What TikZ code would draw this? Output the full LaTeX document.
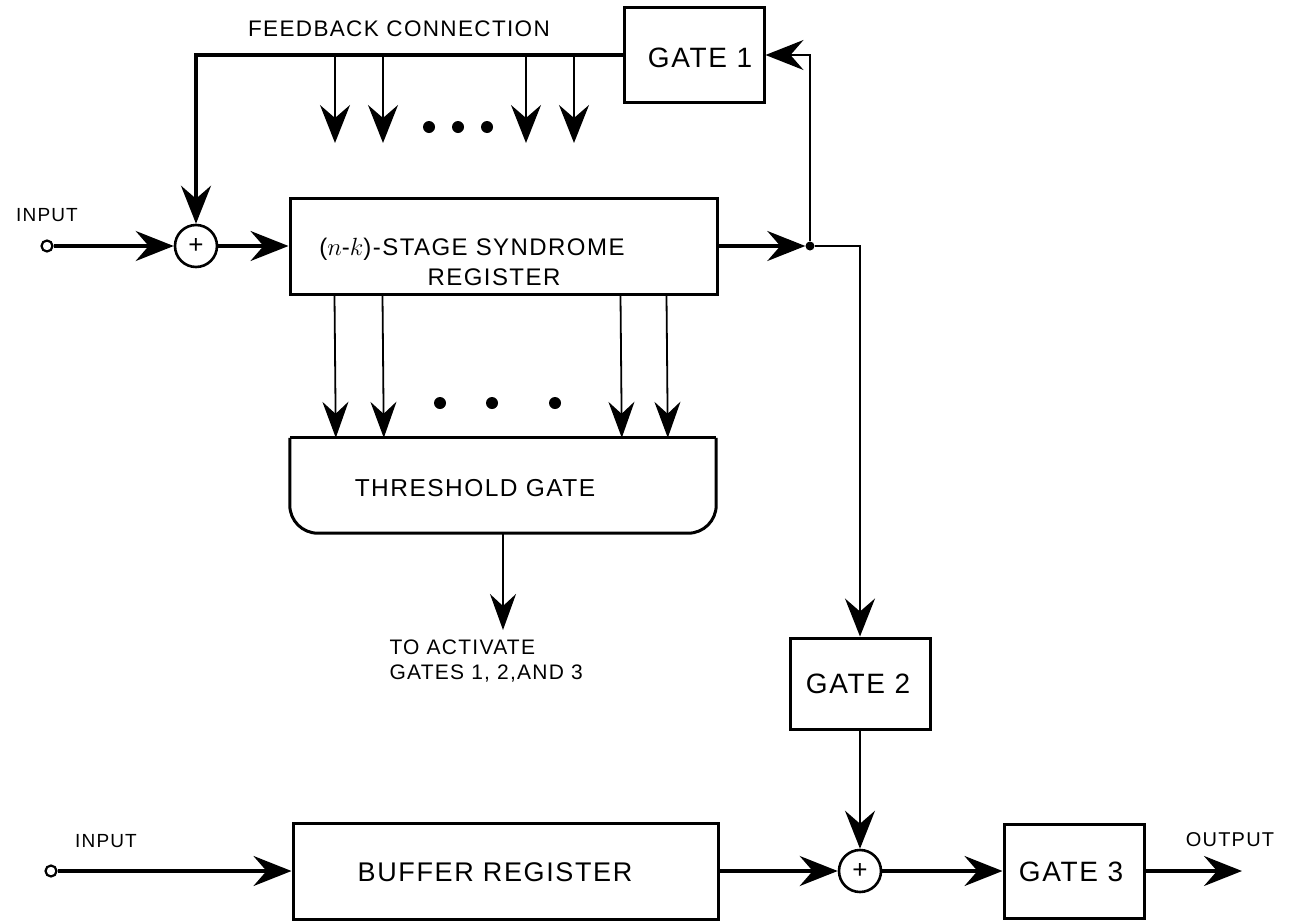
\documentclass[tikz,border=0pt]{standalone}
\usepackage{fontspec}
\setmainfont{Liberation Sans}[LetterSpace=6]
\usetikzlibrary{arrows.meta}
\begin{document}
\begin{tikzpicture}[x=1pt,y=-1pt,
  box/.style={draw, line width=3pt, inner sep=0pt},
  thk/.style={line width=3.2pt},
  thn/.style={line width=1.8pt},
  arr/.style={-{Stealth[length=38pt,width=30pt,inset=13pt]}},
  sarr/.style={-{Stealth[length=36pt,width=26pt,inset=12pt]}},
  fs/.style={font=\fontsize{#1}{#1}\selectfont},
  xor/.style={circle, draw, line width=2.6pt, minimum size=42pt, inner sep=0pt, font=\fontsize{26}{26}\selectfont},
  term/.style={circle, draw, line width=2.2pt, minimum size=11pt, inner sep=0pt},
  bigdot/.style={circle, fill, minimum size=12pt, inner sep=0pt}]
\useasboundingbox (0,0) rectangle (1294,924);

% boxes
\node[box, minimum width=140pt, minimum height=95pt] (g1) at (694,55) {};
\node[box, minimum width=427pt, minimum height=96pt] (reg) at (503.5,246) {};
\node[minimum width=426pt, minimum height=95pt, inner sep=0pt] (thr) at (503,485.5) {};
\node[box, minimum width=140pt, minimum height=91pt] (g2) at (860,683.5) {};
\node[box, minimum width=425pt, minimum height=96pt] (buf) at (505.5,871) {};
\node[box, minimum width=140pt, minimum height=94pt] (g3) at (1074,871) {};

% threshold gate outline (rounded bottom corners)
\draw[line width=3pt] (thr.north west) -- (thr.north east);
\draw[line width=3pt, rounded corners=28pt] (thr.north east) -- (thr.south east) -- (thr.south west) -- (thr.north west);

% adders, terminals, junction
\node[xor] (add1) at (196,246) {+};
\node[xor] (add2) at (860,871) {+};
\node[term] (in1) at (47,246) {};
\node[term] (in2) at (51,871) {};
\node[circle, fill, minimum size=9pt, inner sep=0pt] (j) at (810,246) {};
\coordinate (out) at (1242,871);
\coordinate (act) at (503,630);

% labels
\node[fs=22.5] (tfb) at (399,29) {FEEDBACK CONNECTION};
\node[fs=28] (tg1) at (700,58) {GATE 1};
\node[fs=19] (tin1) at (47,215) {INPUT};
\node[fs=24] (treg1) at (472,249) {($n$-$k$)-STAGE SYNDROME};
\node[fs=24] (treg2) at (494,277) {REGISTER};
\node[fs=24.5] (tthr) at (475,488) {THRESHOLD GATE};
\node[fs=21, anchor=west] (tact1) at (386,647) {TO ACTIVATE};
\node[fs=21, anchor=west] (tact2) at (386,674) {GATES 1, 2,AND 3};
\node[fs=28] (tg2) at (858,684) {GATE 2};
\node[fs=19] (tin2) at (106,841) {INPUT};
\node[fs=27] (tbuf) at (495,872) {BUFFER REGISTER};
\node[fs=28] (tg3) at (1071,872) {GATE 3};
\node[fs=20] (tout) at (1230,840) {OUTPUT};

% feedback path
\draw[thk, arr] (g1.west) -| (add1.north);
\coordinate (fa) at (335,55); \coordinate (fae) at (335,143);
\coordinate (fb) at (383,55); \coordinate (fbe) at (383,143);
\coordinate (fc) at (526,55); \coordinate (fce) at (526,143);
\coordinate (fd) at (574,55); \coordinate (fde) at (574,143);
\draw[thn, arr] (fa) -- (fae);
\draw[thn, arr] (fb) -- (fbe);
\draw[thn, arr] (fc) -- (fce);
\draw[thn, arr] (fd) -- (fde);
\node[bigdot] (d1) at (429,127) {};
\node[bigdot] (d2) at (458,127) {};
\node[bigdot] (d3) at (487,127) {};

% input chain
\draw[thk, arr] (in1) -- (add1.west);
\draw[thk, arr] (add1.east) -- (reg.west);
\draw[thk, arr] (reg.east) -- (j);
\draw[thn, arr] (j) |- (g1.east);
\draw[thn, arr] (j) -| (g2.north);

% register to threshold gate
\draw[thn, sarr] ([xshift=46pt]reg.south west) -- ([xshift=46pt]thr.north west);
\draw[thn, sarr] ([xshift=94pt]reg.south west) -- ([xshift=94pt]thr.north west);
\draw[thn, sarr] ([xshift=332pt]reg.south west) -- ([xshift=332pt]thr.north west);
\draw[thn, sarr] ([xshift=378pt]reg.south west) -- ([xshift=378pt]thr.north west);
\node[bigdot] (d4) at (440,403) {};
\node[bigdot] (d5) at (492,403) {};
\node[bigdot] (d6) at (555,403) {};
\draw[thn, sarr] (thr.south) -- (act);

% bottom chain
\draw[thn, arr] (g2.south) -- (add2.north);
\draw[thk, arr] (in2) -- (buf.west);
\draw[thk, arr] (buf.east) -- (add2.west);
\draw[thk, arr] (add2.east) -- (g3.west);
\draw[thk, arr] (g3.east) -- (out);
\end{tikzpicture}
\end{document}
